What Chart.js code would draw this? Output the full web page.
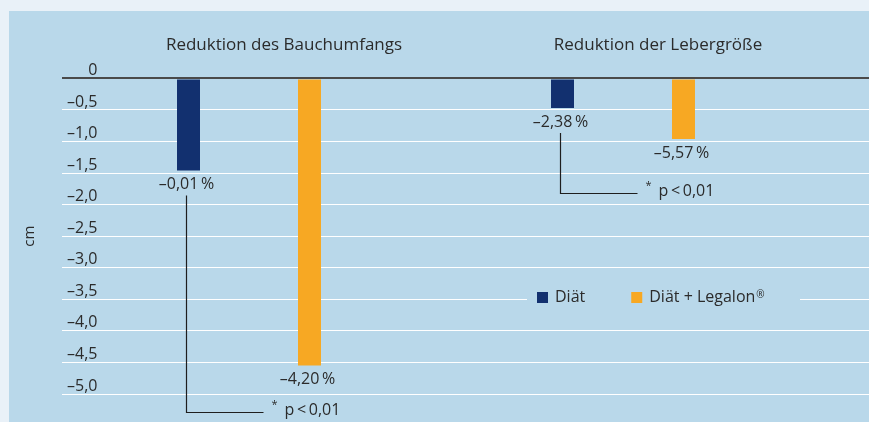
<!DOCTYPE html>
<html>
<head>
<meta charset="utf-8">
<script src="https://cdn.jsdelivr.net/npm/chart.js@4.4.1/dist/chart.umd.min.js"></script>
<style>
  html, body { margin: 0; padding: 0; background: #e9f1f8; }
  #wrap { width: 869px; height: 422px; position: relative; }
</style>
</head>
<body>
<div id="wrap"><canvas id="c" width="869" height="422"></canvas></div>
<script>
// ---- data ----
const categories = ['Reduktion des Bauchumfangs', 'Reduktion der Lebergröße'];
const seriesNames = ['Diät', 'Diät + Legalon®'];
const dietValues = [-1.46, -0.47];
const legalonValues = [-4.55, -0.96];
const dietPercentLabels = ['–0,01\u2009%', '–2,38\u2009%'];
const legalonPercentLabels = ['–4,20\u2009%', '–5,57\u2009%'];
const significanceText = ['p\u2009<\u20090,01', 'p\u2009<\u20090,01'];
const significanceLevels = [-5.28, -1.82];   // y level (cm) of bracket foot
const yMin = -5.0, yMax = 0, yStep = 0.5;
const yTitle = 'cm';

// ---- styles ----
const FONT = '"Open Sans", sans-serif';
const pageBg = '#e9f1f8';
const panelBg = '#b9d8ea';
const textColor = '#2b2b2b';
const navy = '#12306f';
const orange = '#f7a823';
const gridColor = '#ffffff';
const zeroColor = '#4a4a4a';

function align(px, w) { return Math.round(px - w / 2) + w / 2; }

const framePlugin = {
  id: 'frame',
  beforeDraw(chart) {
    const { ctx, width, height } = chart;
    ctx.save();
    ctx.fillStyle = pageBg;
    ctx.fillRect(0, 0, width, height);
    ctx.fillStyle = panelBg;
    ctx.fillRect(9, 11, width - 9, height - 11);
    ctx.restore();
  }
};

const gridExtendPlugin = {
  id: 'gridExtend',
  beforeDatasetsDraw(chart) {
    const { ctx, chartArea, scales: { y } } = chart;
    ctx.save();
    y.ticks.forEach(t => {
      const w = t.value === 0 ? 2 : 1;
      const py = align(y.getPixelForValue(t.value), w);
      ctx.beginPath();
      ctx.moveTo(chartArea.right, py);
      ctx.lineTo(chart.width, py);
      ctx.lineWidth = w;
      ctx.strokeStyle = t.value === 0 ? zeroColor : gridColor;
      ctx.stroke();
    });
    ctx.restore();
  }
};

const annotatePlugin = {
  id: 'annotate',
  afterDatasetsDraw(chart) {
    const { ctx, scales: { x, y } } = chart;
    ctx.save();
    // value labels under bars
    ctx.font = '16px ' + FONT;
    ctx.fillStyle = textColor;
    ctx.textAlign = 'center';
    ctx.textBaseline = 'middle';
    chart.data.datasets.forEach((ds, di) => {
      const meta = chart.getDatasetMeta(di);
      meta.data.forEach((bar, i) => {
        ctx.fillText(ds.valueLabels[i], bar.x - 2, bar.y + 14);
      });
    });
    // significance brackets
    const meta0 = chart.getDatasetMeta(0);
    meta0.data.forEach((bar, i) => {
      const x0 = Math.round(bar.x - 2.5) + 0.5;
      const yTop = bar.y + 25;
      const yBot = Math.round(y.getPixelForValue(significanceLevels[i])) + 0.5;
      const x1 = x0 + 77;
      ctx.beginPath();
      ctx.moveTo(x0, yTop);
      ctx.lineTo(x0, yBot);
      ctx.lineTo(x1, yBot);
      ctx.lineWidth = 1.2;
      ctx.strokeStyle = '#1e1e1e';
      ctx.stroke();
      ctx.textAlign = 'left';
      ctx.font = '11px ' + FONT;
      ctx.fillText('*', x1 + 8, yBot - 8);
      ctx.font = '16px ' + FONT;
      ctx.fillText(significanceText[i], x1 + 21, yBot - 2);
    });
    // legend sitting on the -3.5 gridline
    const cx = x.getPixelForValue(1) + 40;
    const ly = align(y.getPixelForValue(-3.5), 1);
    ctx.fillStyle = panelBg;
    ctx.fillRect(cx - 136, ly - 3, 273, 6);
    let lx = cx - 126;
    const cy = ly - 2;
    chart.data.datasets.forEach((ds, di) => {
      ctx.fillStyle = ds.backgroundColor;
      ctx.fillRect(lx, cy - 5.5, 11, 11);
      lx += 18;
      ctx.fillStyle = textColor;
      ctx.font = '16px ' + FONT;
      ctx.textAlign = 'left';
      let label = ds.label;
      let sup = '';
      if (label.endsWith('®')) { sup = '®'; label = label.slice(0, -1); }
      ctx.fillText(label, lx, cy);
      lx += ctx.measureText(label).width;
      if (sup) {
        ctx.font = '10px ' + FONT;
        ctx.fillText(sup, lx + 1, cy - 2);
        lx += ctx.measureText(sup).width + 1;
      }
      lx += 46;
    });
    ctx.restore();
  }
};

new Chart(document.getElementById('c'), {
  type: 'bar',
  data: {
    labels: categories,
    datasets: [
      { label: seriesNames[0], data: dietValues, backgroundColor: navy, valueLabels: dietPercentLabels },
      { label: seriesNames[1], data: legalonValues, backgroundColor: orange, valueLabels: legalonPercentLabels }
    ]
  },
  options: {
    responsive: false,
    animation: false,
    devicePixelRatio: 1,
    categoryPercentage: 0.647,
    barPercentage: 0.19,
    layout: { padding: { left: 9, right: 59, top: 12, bottom: 28 } },
    plugins: { legend: { display: false }, tooltip: { enabled: false } },
    scales: {
      x: {
        position: 'top',
        grid: { display: false, drawTicks: false },
        border: { display: false },
        ticks: {
          font: { family: FONT, size: 17 },
          color: textColor,
          padding: 23,
          labelOffset: 35,
          maxRotation: 0,
          autoSkip: false
        }
      },
      y: {
        min: yMin,
        max: yMax,
        border: { display: false },
        grid: {
          drawTicks: false,
          color: ctx => ctx.tick && ctx.tick.value === 0 ? zeroColor : gridColor,
          lineWidth: ctx => ctx.tick && ctx.tick.value === 0 ? 2 : 1
        },
        ticks: {
          stepSize: yStep,
          mirror: true,
          crossAlign: 'far',
          padding: 5,
          labelOffset: -8,
          font: { family: FONT, size: 16 },
          color: textColor,
          callback: v => v === 0 ? '0' : '–' + Math.abs(v).toFixed(1).replace('.', ',')
        },
        title: {
          display: true,
          text: yTitle,
          font: { family: FONT, size: 15 },
          color: textColor,
          padding: { top: 12, bottom: 13 }
        }
      }
    }
  },
  plugins: [framePlugin, gridExtendPlugin, annotatePlugin]
});
</script>
</body>
</html>
